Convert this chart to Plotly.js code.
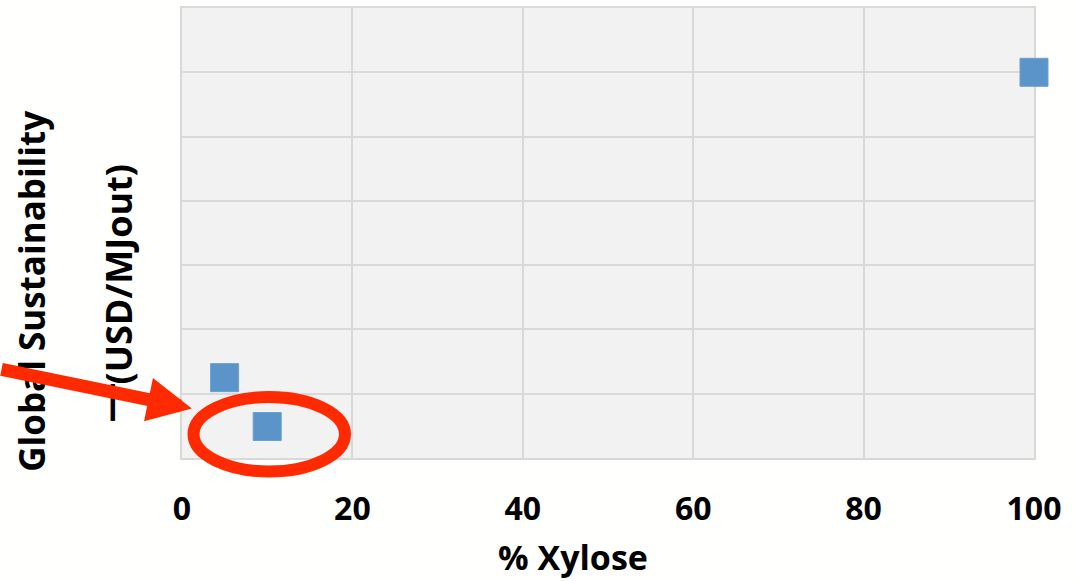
<!DOCTYPE html>
<html>
<head>
<meta charset="utf-8">
<script src="https://cdn.plot.ly/plotly-3.0.1.min.js"></script>
<style>
html,body{margin:0;padding:0;background:#fffffd;}
#chart{width:1076px;height:581px;}
</style>
</head>
<body>
<div id="chart"></div>
<script>
// Data
const xylosePct = [5, 10, 100];
const globalSustainability = [1.25, 0.49, 6.0];
const xTickVals = [0, 20, 40, 60, 80, 100];
const xTickText = ['0', '20', '40', '60', '80', '100'];
const xTitle = '% Xylose';
const yTitleLine1 = 'Global Sustainability';
const yTitleLine2 = '(USD/MJout)';
const yTitleDash = '—';

const FONT = 'Open Sans, Liberation Sans, sans-serif';
const RED = '#ff2a00';

const trace = {
  x: xylosePct,
  y: globalSustainability,
  type: 'scatter',
  mode: 'markers',
  cliponaxis: false,
  marker: {symbol: 'square', size: 28, color: '#5b94c9', line: {color: '#6a9fd0', width: 1}},
  hoverinfo: 'x+y',
  showlegend: false
};

const layout = {
  width: 1076,
  height: 581,
  margin: {l: 182, r: 42, t: 8, b: 123},
  paper_bgcolor: '#fffffd',
  plot_bgcolor: '#f2f2f2',
  font: {family: FONT, color: '#000'},
  xaxis: {
    range: [0, 100],
    tickvals: xTickVals,
    ticktext: xTickText,
    showgrid: true,
    gridcolor: '#d9d9d9',
    gridwidth: 2,
    zeroline: false,
    showline: true,
    linecolor: '#d9d9d9',
    linewidth: 2,
    mirror: true,
    layer: 'below traces',
    ticks: 'outside',
    ticklen: 22,
    tickcolor: 'rgba(0,0,0,0)',
    tickfont: {family: FONT, size: 32, weight: 'bold', color: '#000'},
    fixedrange: true
  },
  yaxis: {
    range: [0, 7],
    dtick: 1,
    showticklabels: false,
    showgrid: true,
    gridcolor: '#d9d9d9',
    gridwidth: 2,
    zeroline: false,
    showline: true,
    linecolor: '#d9d9d9',
    linewidth: 2,
    mirror: true,
    layer: 'below traces',
    ticks: '',
    fixedrange: true
  },
  shapes: [
    {
      type: 'circle', xref: 'paper', yref: 'paper',
      x0: 0.0135, x1: 0.1913, y0: -0.030, y1: 0.1354,
      line: {color: RED, width: 12}, layer: 'above'
    }
  ],
  annotations: [
    {
      text: xTitle, xref: 'paper', yref: 'paper', x: 0.459, y: -0.221,
      xanchor: 'center', yanchor: 'middle', showarrow: false,
      font: {family: FONT, size: 34, weight: 'bold', color: '#000'}
    },
    {
      text: yTitleLine1, xref: 'paper', yref: 'paper', x: -0.1765, y: 0.3707,
      xanchor: 'center', yanchor: 'middle', showarrow: false, textangle: -90,
      font: {family: FONT, size: 35, weight: 'bold', color: '#000'}
    },
    {
      text: yTitleLine2, xref: 'paper', yref: 'paper', x: -0.0751, y: 0.408,
      xanchor: 'center', yanchor: 'middle', showarrow: false, textangle: -90,
      font: {family: FONT, size: 36, weight: 'bold', color: '#000'}
    },
    {
      text: yTitleDash, xref: 'paper', yref: 'paper', x: -0.0875, y: 0.1243,
      xanchor: 'center', yanchor: 'middle', showarrow: false, textangle: -90,
      font: {family: FONT, size: 40, weight: 'bold', color: '#000'}
    },
    {
      text: '', xref: 'paper', yref: 'paper', x: 0.0115, y: 0.110,
      axref: 'pixel', ayref: 'pixel', ax: -205, ay: -39.5,
      showarrow: true, arrowhead: 2, arrowsize: 0.68, arrowwidth: 13, arrowcolor: RED
    }
  ]
};

Plotly.newPlot('chart', [trace], layout, {displayModeBar: false, staticPlot: true});
</script>
</body>
</html>
